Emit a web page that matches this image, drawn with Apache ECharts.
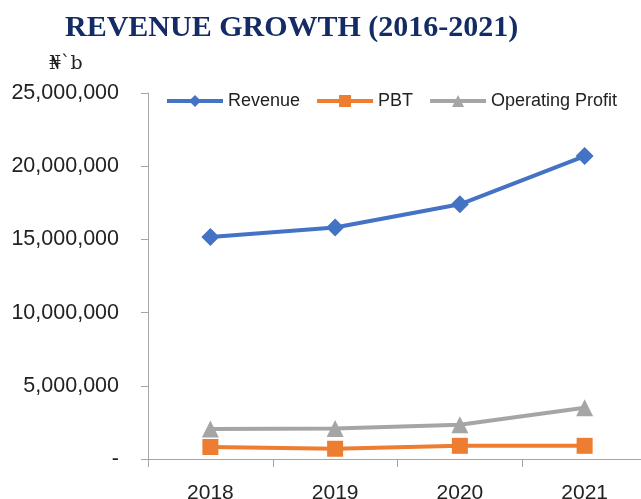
<!DOCTYPE html>
<html>
<head>
<meta charset="utf-8">
<script src="https://cdn.jsdelivr.net/npm/echarts@6/dist/echarts.min.js"></script>
<style>
  html, body { margin: 0; padding: 0; background: #fff; }
  #chart { width: 641px; height: 499px; }
</style>
</head>
<body>
<div id="chart"></div>
<script>
// data
var years = ['2018', '2019', '2020', '2021'];
var revenue = [15170000, 15810000, 17400000, 20690000];
var pbt = [820000, 700000, 900000, 900000];
var operatingProfit = [2050000, 2090000, 2340000, 3500000];

var chart = echarts.init(document.getElementById('chart'));

var option = {
    animation: false,
    title: [
        {
            text: 'REVENUE GROWTH (2016-2021)',
            left: 60,
            top: 8,
            textStyle: {
                fontFamily: 'Liberation Serif',
                fontWeight: 'bold',
                fontSize: 30,
                color: '#132c66'
            }
        },
        {
            text: '\u20A6`b',
            left: 44,
            top: 50,
            textStyle: {
                fontFamily: 'DejaVu Serif',
                fontWeight: 'normal',
                fontSize: 19,
                color: '#222'
            }
        }
    ],
    legend: {
        top: 87,
        left: 160,
        width: 481,
        itemWidth: 56,
        itemHeight: 15,
        itemGap: 15,
        lineStyle: { width: 4 },
        textStyle: {
            fontFamily: 'Liberation Sans',
            fontSize: 18,
            color: '#222'
        },
        data: ['Revenue', 'PBT', 'Operating Profit']
    },
    grid: {
        left: 148,
        top: 93,
        bottom: 40,
        width: 499,
        outerBoundsMode: 'none'
    },
    xAxis: {
        type: 'category',
        data: years,
        axisLine: { lineStyle: { color: '#a6a6a6', width: 1 } },
        axisTick: { show: true, length: 8, lineStyle: { color: '#a6a6a6' } },
        axisLabel: {
            margin: 24,
            fontFamily: 'Liberation Sans',
            fontSize: 21,
            color: '#222'
        }
    },
    yAxis: {
        type: 'value',
        min: 0,
        max: 25000000,
        interval: 5000000,
        splitLine: { show: false },
        axisLine: { show: true, lineStyle: { color: '#a6a6a6', width: 1 } },
        axisTick: { show: true, length: 7, lineStyle: { color: '#a6a6a6' } },
        axisLabel: {
            margin: 29,
            fontFamily: 'Liberation Sans',
            fontSize: 21.5,
            color: '#222',
            padding: [3, 0, 0, 0],
            formatter: function (v) {
                if (v === 0) return '-';
                return v.toLocaleString('en-US');
            }
        }
    },
    series: [
        {
            name: 'Revenue',
            type: 'line',
            data: revenue,
            symbol: 'diamond',
            symbolSize: 18,
            lineStyle: { width: 4, color: '#4472c4' },
            itemStyle: { color: '#4472c4' }
        },
        {
            name: 'PBT',
            type: 'line',
            data: pbt,
            symbol: 'rect',
            symbolSize: 16,
            lineStyle: { width: 4, color: '#ed7d31' },
            itemStyle: { color: '#ed7d31' }
        },
        {
            name: 'Operating Profit',
            type: 'line',
            data: operatingProfit,
            symbol: 'triangle',
            symbolSize: 17,
            lineStyle: { width: 4, color: '#a5a5a5' },
            itemStyle: { color: '#a5a5a5' }
        }
    ]
};

chart.setOption(option);
</script>
</body>
</html>
